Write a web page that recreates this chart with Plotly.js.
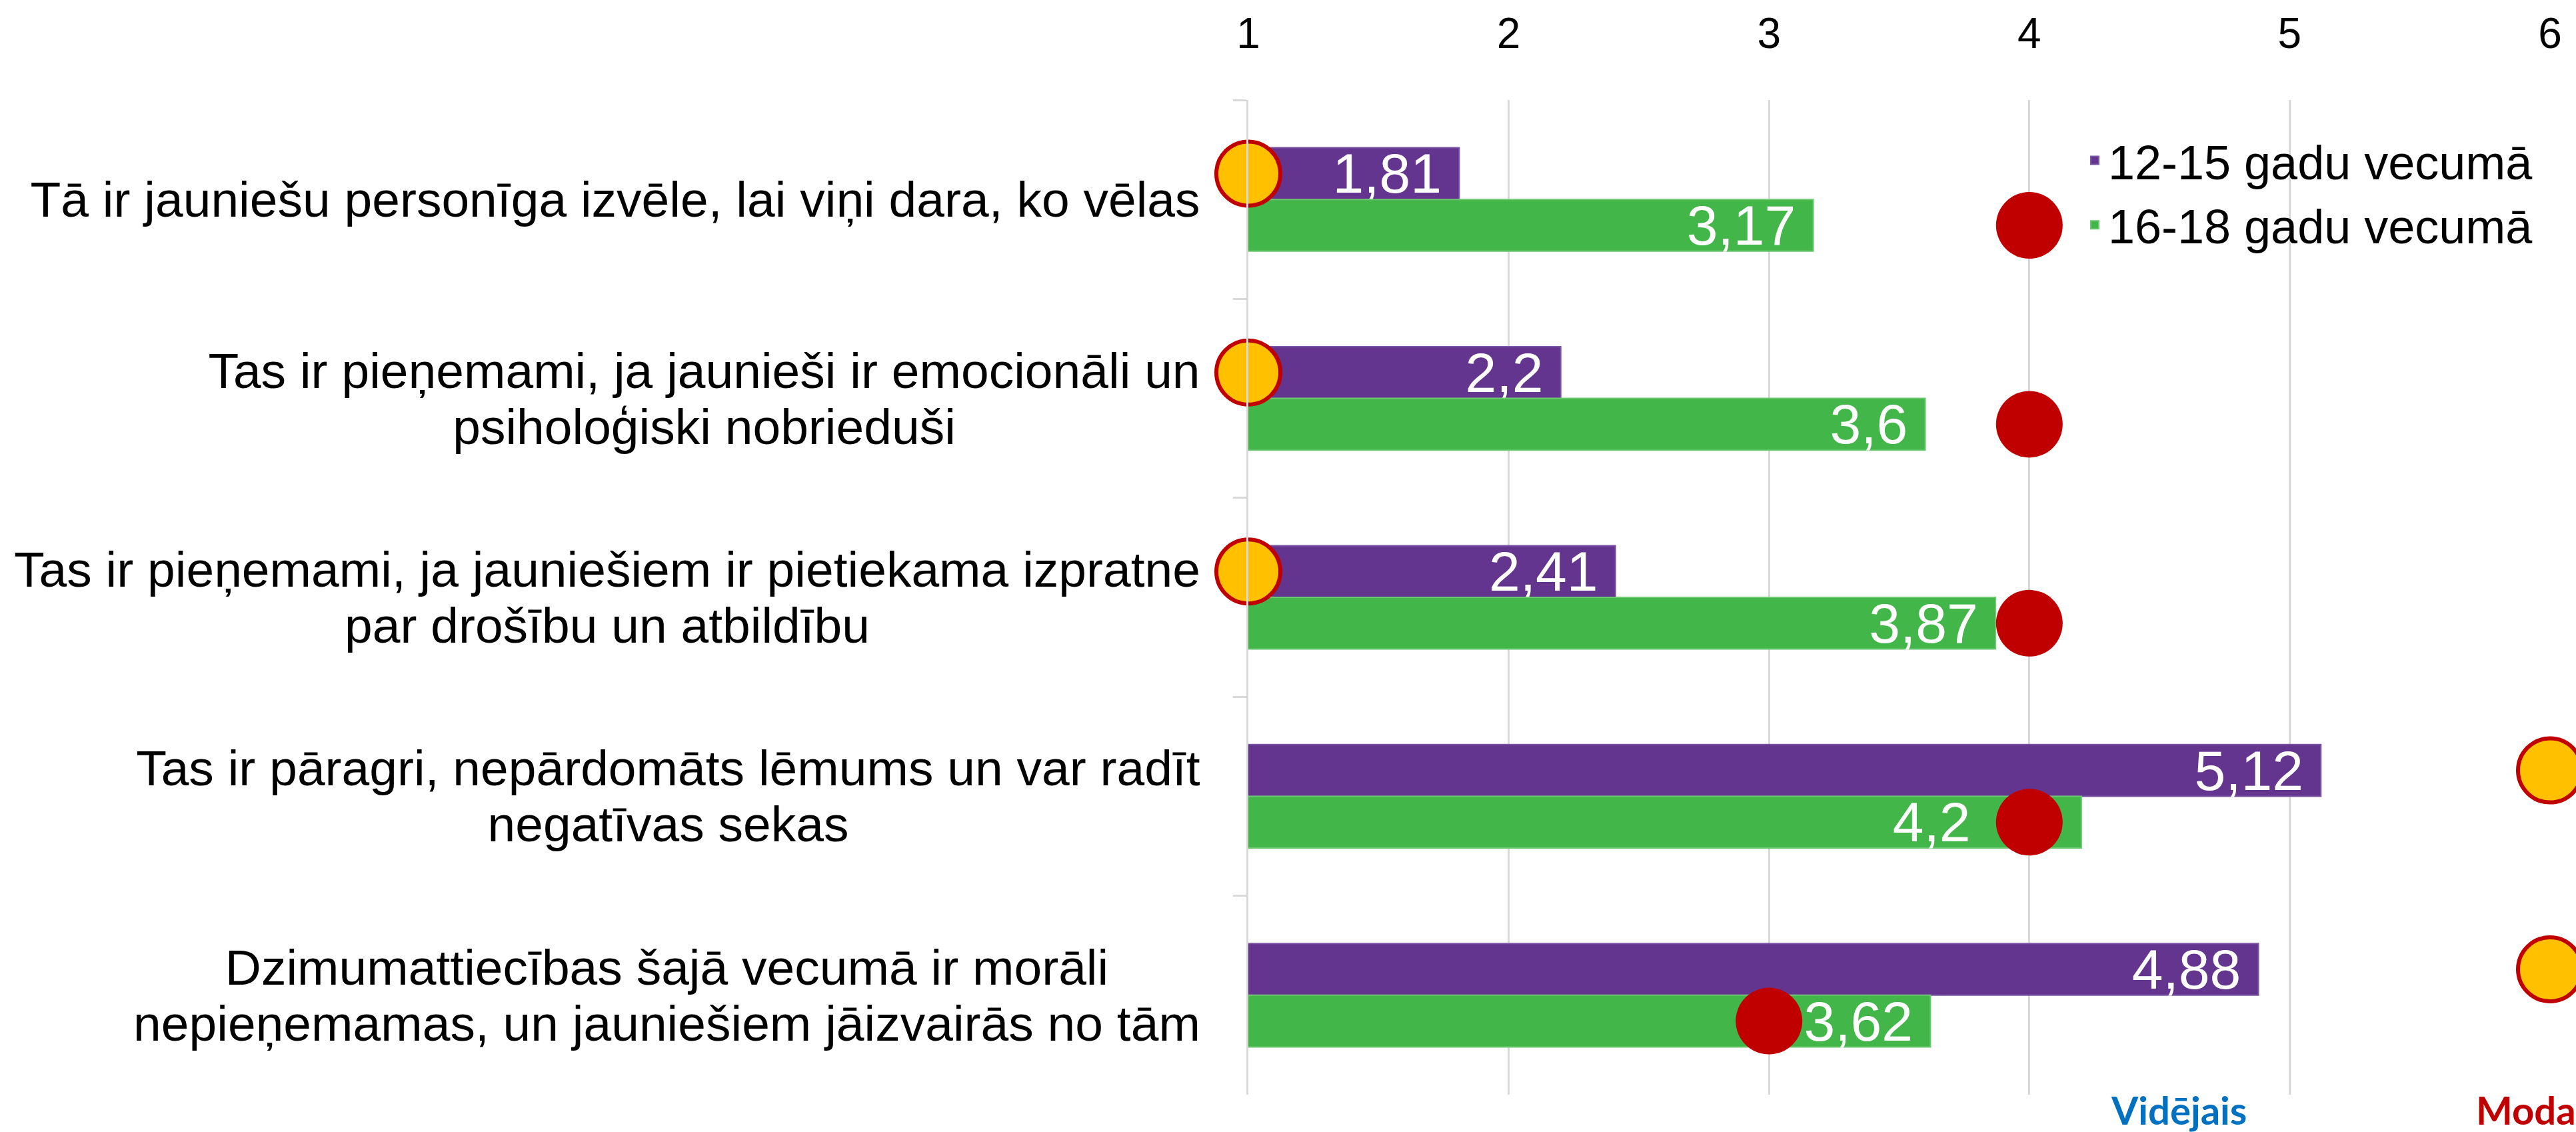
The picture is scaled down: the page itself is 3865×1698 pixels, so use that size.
<!DOCTYPE html>
<html>
<head>
<meta charset="utf-8">
<script src="https://cdn.plot.ly/plotly-3.0.1.min.js"></script>
<style>html,body{margin:0;padding:0;background:#fff;}#chart{width:3865px;height:1698px;}</style>
</head>
<body>
<div id="chart"></div>
<script>
const categories = [
  "Tā ir jauniešu personīga izvēle, lai viņi dara, ko vēlas",
  "Tas ir pieņemami, ja jaunieši ir emocionāli un<br>psiholoģiski nobrieduši",
  "Tas ir pieņemami, ja jauniešiem ir pietiekama izpratne<br>par drošību un atbildību",
  "Tas ir pāragri, nepārdomāts lēmums un var radīt<br>negatīvas sekas",
  "Dzimumattiecības šajā vecumā ir morāli<br>nepieņemamas, un jauniešiem jāizvairās no tām"
];
const seriesNames = ["12-15 gadu vecumā", "16-18 gadu vecumā"];
const mean1215 = [1.81, 2.2, 2.41, 5.12, 4.88];
const mean1618 = [3.17, 3.6, 3.87, 4.2, 3.62];
const mode1215 = [1, 1, 1, 6, 6];
const mode1618 = [4, 4, 4, 4, 3];
const xTicks = [1, 2, 3, 4, 5, 6];
const footerLabels = ["Vidējais", "Moda"];

const PURPLE = "#64358F";
const GREEN = "#43B649";
const ORANGE = "#FFC000";
const RED = "#C00000";
const FONT = "Liberation Sans, Arial, sans-serif";
const NBSP = "\u00a0";
const CAT_SIZE = 75;

// value labels with decimal comma; label right padding as in the original
const fmt = v => String(v).replace(".", ",");
const labels1215 = mean1215.map(v => fmt(v) + NBSP);
const labels1618 = mean1618.map(v => fmt(v) + NBSP);
// the label of the 4th green bar sits left of its mode marker in the original
labels1618[3] = fmt(mean1618[3]) + NBSP.repeat(7);

const barCommon = {
  type: "bar",
  orientation: "h",
  y: categories,
  alignmentgroup: "a",
  textposition: "inside",
  insidetextanchor: "end",
  constraintext: "none",
  texttemplate: "%{text}",
  insidetextfont: {family: FONT, size: 84, color: "#FFFFFF"},
  hoverinfo: "x+y"
};

const traces = [
  Object.assign({}, barCommon, {
    name: seriesNames[0], x: mean1215, text: labels1215, offsetgroup: "1",
    marker: {color: PURPLE, line: {color: "#7A55A6", width: 2}}
  }),
  Object.assign({}, barCommon, {
    name: seriesNames[1], x: mean1618, text: labels1618, offsetgroup: "2",
    marker: {color: GREEN, line: {color: "#6CC870", width: 2}}
  }),
  {
    type: "scatter", mode: "markers", orientation: "h",
    x: mode1215, y: categories, alignmentgroup: "a", offsetgroup: "1",
    showlegend: false, cliponaxis: false,
    marker: {size: 96, color: ORANGE, line: {color: RED, width: 6}}
  },
  {
    type: "scatter", mode: "markers", orientation: "h",
    x: mode1618, y: categories, alignmentgroup: "a", offsetgroup: "2",
    showlegend: false, cliponaxis: false,
    marker: {size: 100, color: RED, line: {color: RED, width: 0}}
  }
];

// measure text so that multi-line labels are centred on their longest line
const ctx = document.createElement("canvas").getContext("2d");
ctx.font = CAT_SIZE + "px 'Liberation Sans', Arial, sans-serif";

// category labels: each line centred, tighter line spacing than Plotly's default
const LINE_H = 84;
const annotations = [];
categories.forEach(c => {
  const lines = c.split("<br>");
  const n = lines.length;
  const w = Math.ceil(Math.max.apply(null, lines.map(l => ctx.measureText(l).width))) + 4;
  lines.forEach((ln, k) => {
    annotations.push({
      xref: "paper", yref: "y", x: 0, y: c,
      xanchor: "right", yanchor: "middle", xshift: -68,
      yshift: ((n - 1) / 2 - k) * LINE_H,
      showarrow: false, text: ln, width: w, align: "center",
      font: {family: FONT, size: CAT_SIZE, color: "#000000"}
    });
  });
});
annotations.push({
  xref: "paper", yref: "paper", x: 0.715, y: -0.015,
  xanchor: "center", yanchor: "middle", showarrow: false,
  text: "<b>" + footerLabels[0] + "</b>",
  font: {family: "Lato, Open Sans, sans-serif", size: 58, color: "#0070C0"}
});
annotations.push({
  xref: "paper", yref: "paper", x: 0.942, y: -0.015,
  xanchor: "left", yanchor: "middle", showarrow: false,
  text: "<b>" + footerLabels[1] + "</b>",
  font: {family: "Lato, Open Sans, sans-serif", size: 58, color: RED}
});

const layout = {
  width: 3865, height: 1698,
  margin: {l: 1873, r: 39, t: 150, b: 56, pad: 0},
  paper_bgcolor: "#FFFFFF", plot_bgcolor: "#FFFFFF",
  separators: ", ",
  barmode: "group", bargap: 0.48, bargroupgap: 0,
  scattermode: "group", scattergap: 0.48,
  showlegend: true,
  legend: {
    x: 0.64, y: 0.975, xanchor: "left", yanchor: "top",
    bgcolor: "rgba(0,0,0,0)", traceorder: "normal",
    font: {family: FONT, size: 72, color: "#000000"}
  },
  xaxis: {
    side: "top", range: [1, 6], tickvals: xTicks,
    showgrid: true, gridcolor: "#D9D9D9", gridwidth: 3,
    zeroline: false, showline: false, ticks: "",
    ticklabelstandoff: 64,
    tickfont: {family: FONT, size: 64, color: "#000000"},
    fixedrange: true
  },
  yaxis: {
    type: "category", autorange: "reversed",
    showticklabels: false, showgrid: false, zeroline: false,
    showline: true, linecolor: "#D9D9D9", linewidth: 3,
    ticks: "outside", tickson: "boundaries", ticklen: 20,
    tickcolor: "#D9D9D9", tickwidth: 3,
    fixedrange: true
  },
  annotations: annotations
};

Plotly.newPlot("chart", traces, layout, {displayModeBar: false, responsive: false});
</script>
</body>
</html>
